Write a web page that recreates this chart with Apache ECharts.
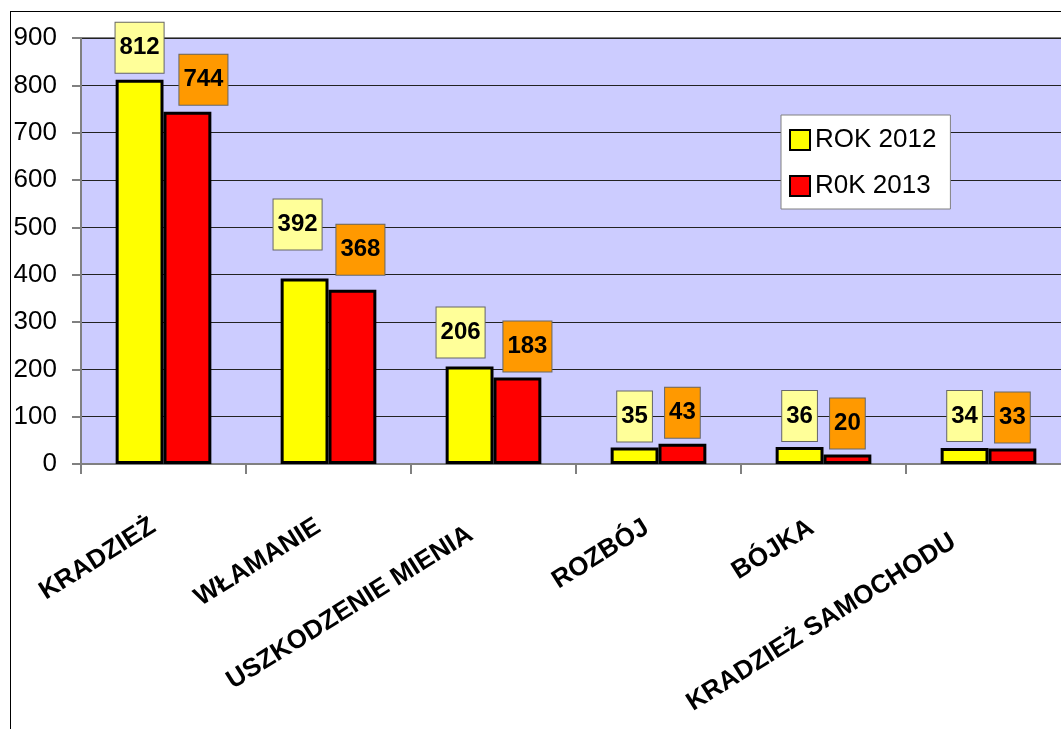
<!DOCTYPE html>
<html>
<head>
<meta charset="utf-8">
<script src="https://cdn.jsdelivr.net/npm/echarts@6/dist/echarts.min.js"></script>
<style>
html,body{margin:0;padding:0;background:#fff;overflow:hidden;width:1061px;height:729px;}
#frame{position:absolute;left:10px;top:11px;width:1200px;height:900px;border:1.5px solid #000;box-sizing:border-box;}
#chart{position:absolute;left:0;top:0;width:1100px;height:729px;}
</style>
</head>
<body>
<div id="frame"></div>
<div id="chart"></div>
<script>
const categories = ['KRADZIEŻ','WŁAMANIE','USZKODZENIE MIENIA','ROZBÓJ','BÓJKA','KRADZIEŻ SAMOCHODU'];
const seriesNames = ['ROK 2012','R0K 2013'];
const values2012 = [812, 392, 206, 35, 36, 34];
const values2013 = [744, 368, 183, 43, 20, 33];
const yTicks = {min: 0, max: 900, interval: 100};

// label nudges (as placed in the original)
const shift2012 = [[0,-1],[-7,-23],[-9,-3],[0,0],[0,0],[0,-1]];
const shift2013 = [[16,-1],[8,-9],[10,0],[0,0],[0,0],[0,0]];
// category label padding [top, right] (Excel staggering of long labels)
const catPad = [[0,12],[0,12],[48,27],[0,14],[0,14],[30,41]];

const chart = echarts.init(document.getElementById('chart'), null, {renderer:'canvas'});
const FONT = '"Liberation Sans", Arial, sans-serif';

function mk(vals, shifts){
  return vals.map((v,i)=>({value:v, label:{offset:shifts[i]}}));
}
function lbl(bg){
  return {
    show:true, position:'top', distance:6,
    backgroundColor:bg, borderColor:'#666', borderWidth:1,
    padding:[12,4,12,4], lineHeight:26,
    fontFamily:FONT, fontSize:24, fontWeight:'bold', color:'#000'
  };
}

chart.setOption({
  animation:false,
  grid:{left:81, top:38, right:29, bottom:265, show:true, backgroundColor:'#CCCCFF', borderColor:'#808080', borderWidth:2},
  legend:{
    orient:'vertical', left:781, top:115,
    backgroundColor:'#fff', borderColor:'#808080', borderWidth:1,
    padding:[12,14,10,8], itemGap:20, itemWidth:20, itemHeight:20,
    icon:'rect',
    itemStyle:{borderColor:'#000', borderWidth:2},
    textStyle:{fontFamily:FONT, fontSize:26, color:'#000'},
    data:seriesNames
  },
  xAxis:{
    type:'category',
    data:categories.map((c,i)=>({value:c, textStyle:{padding:[catPad[i][0],catPad[i][1],0,0]}})),
    axisLine:{lineStyle:{color:'#808080', width:2}},
    axisTick:{show:true, length:10, lineStyle:{color:'#808080', width:2}},
    axisLabel:{interval:0, rotate:32, margin:54, fontFamily:FONT, fontSize:26, fontWeight:'bold', color:'#000'}
  },
  yAxis:{
    type:'value', min:yTicks.min, max:yTicks.max, interval:yTicks.interval,
    axisLine:{show:true, lineStyle:{color:'#808080', width:2}},
    axisTick:{show:true, length:9, lineStyle:{color:'#808080', width:2}},
    axisLabel:{margin:24, fontFamily:FONT, fontSize:26, color:'#000'},
    splitLine:{lineStyle:{color:'#222', width:1}}
  },
  series:[
    {name:seriesNames[0], type:'bar', data:mk(values2012, shift2012), barGap:'0%', barCategoryGap:'42%',
     itemStyle:{color:'#FFFF00', borderColor:'#000', borderWidth:3}, label:lbl('#FFFF99')},
    {name:seriesNames[1], type:'bar', data:mk(values2013, shift2013), barGap:'0%', barCategoryGap:'42%',
     itemStyle:{color:'#FF0000', borderColor:'#000', borderWidth:3}, label:lbl('#FF9900')}
  ]
});
</script>
</body>
</html>
